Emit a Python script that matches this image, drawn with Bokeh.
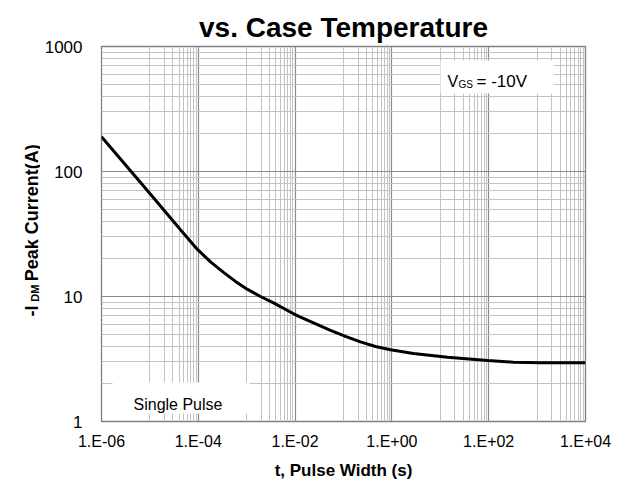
import math
from bokeh.plotting import figure
from bokeh.layouts import row
from bokeh.models import Range1d, FixedTicker, Label, BoxAnnotation, Title
from bokeh.core.properties import value
from bokeh.embed import file_html
from bokeh.resources import INLINE

# ---- data ----
pulse_width_s = [1e-6, 4.58e-6, 1.03e-5, 4.28e-5, 9.6e-5, 1.79e-4, 3.32e-4, 5.87e-4,
                 1.04e-3, 1.93e-3, 3.58e-3, 9.3e-3, 1.29e-2, 5.39e-2, 0.11, 0.224,
                 0.458, 0.935, 2.79, 14.1, 94.4, 325, 1175, 1e4]
peak_current_a = [190, 95, 65.7, 34.2, 23.8, 18.9, 15.6, 13.2,
                  11.4, 10.0, 8.9, 7.27, 6.83, 5.35, 4.79, 4.33,
                  3.98, 3.75, 3.50, 3.27, 3.08, 2.98, 2.95, 2.95]

x_major_ticks = [1e-6, 1e-4, 1e-2, 1e0, 1e2, 1e4]
x_tick_labels = ["1.E-06", "1.E-04", "1.E-02", "1.E+00", "1.E+02", "1.E+04"]
x_minor_ticks = [k * 10.0 ** e for e in (-5, -3, -1, 1, 3) for k in range(1, 10)]
y_major_ticks = [1, 10, 100, 1000]
y_tick_labels = ["1", "10", "100", "1000"]
y_minor_ticks = [k * 10.0 ** e for e in (0, 1, 2) for k in range(2, 10)]

FONT = "Liberation Sans"
LEFT_W = 40  # width of the strip that holds the y-axis title

# ---- strip on the left holding the rotated y-axis title ----
lp = figure(width=LEFT_W, height=485, x_range=Range1d(0, LEFT_W), y_range=Range1d(0, 485),
            output_backend="svg", toolbar_location=None,
            x_axis_location=None, y_axis_location=None,
            min_border=0, min_border_left=0, min_border_right=0,
            min_border_top=0, min_border_bottom=0)
lp.outline_line_color = None
lp.grid.visible = False
lp.background_fill_color = "white"
lp.border_fill_color = "white"


def ytitle(cx, cy, text, size):
    lp.text(x=[cx], y=[485 - cy], text=[text], angle=math.pi / 2,
            text_font=value(FONT), text_font_size=f"{size}px", text_font_style="bold",
            text_align="center", text_baseline="middle", text_color="black")


ytitle(31.8, 342, "-I", 18)
ytitle(34.2, 319, "DM", 11)
ytitle(31.8, 215, "Peak Current(A)", 18)

# ---- main chart ----
p = figure(width=625 - LEFT_W, height=485, x_axis_type="log", y_axis_type="log",
           x_range=Range1d(1e-6, 1e4), y_range=Range1d(1, 1000),
           output_backend="svg", toolbar_location=None, title=None,
           min_border_left=101 - LEFT_W, min_border_right=40,
           min_border_top=46, min_border_bottom=64)
p.background_fill_color = "white"
p.border_fill_color = "white"
p.outline_line_color = "#7f7f7f"
p.outline_line_width = 1.3

title = Title(text="vs. Case Temperature", align="center", text_font=FONT,
              text_font_size="28px", text_font_style="bold", text_color="black",
              standoff=8, offset=0)
p.add_layout(title, "above")

p.xaxis.ticker = FixedTicker(ticks=x_major_ticks, minor_ticks=x_minor_ticks)
p.yaxis.ticker = FixedTicker(ticks=y_major_ticks, minor_ticks=y_minor_ticks)
p.xaxis.major_label_overrides = {t: l for t, l in zip(x_major_ticks, x_tick_labels)}
p.yaxis.major_label_overrides = {t: l for t, l in zip(y_major_ticks, y_tick_labels)}

for ax in (p.xaxis, p.yaxis):
    ax.axis_line_color = None
    ax.major_tick_line_color = None
    ax.minor_tick_line_color = None
    ax.major_tick_out = 0
    ax.major_tick_in = 0
    ax.minor_tick_out = 0
    ax.minor_tick_in = 0
    ax.major_label_text_font = FONT
    ax.major_label_text_color = "black"
p.xaxis.major_label_text_font_size = "16px"
p.yaxis.major_label_text_font_size = "17px"
p.xaxis.major_label_standoff = 11
p.yaxis.major_label_standoff = 19

p.xaxis.axis_label = "t, Pulse Width (s)"
p.xaxis.axis_label_text_font = FONT
p.xaxis.axis_label_text_font_size = "17px"
p.xaxis.axis_label_text_font_style = "bold"
p.xaxis.axis_label_text_color = "black"
p.xaxis.axis_label_standoff = 8

for g in (p.xgrid, p.ygrid):
    g.grid_line_color = "#8a8a8a"
    g.grid_line_width = 1.2
    g.minor_grid_line_color = "#c3c3c3"
    g.minor_grid_line_width = 1

p.line(pulse_width_s, peak_current_a, line_color="black", line_width=3)


# ---- annotations placed by pixel position (page pixels) ----
def px2x(px):
    return 10 ** (-6 + (px - 101) / 48.4)


def py2y(py):
    return 10 ** ((421 - py) / 125)


p.add_layout(BoxAnnotation(left=px2x(440), right=px2x(553), top=py2y(60), bottom=py2y(93),
                           fill_color="white", fill_alpha=1, line_color=None))
p.add_layout(BoxAnnotation(left=px2x(112), right=px2x(249), top=py2y(382), bottom=py2y(413),
                           fill_color="white", fill_alpha=1, line_color=None))


def lab(px, py, text, size, bold=False, align="left"):
    p.add_layout(Label(x=px2x(px), y=py2y(py), text=text, text_font=FONT,
                       text_font_size=f"{size}px",
                       text_font_style="bold" if bold else "normal",
                       text_align=align, text_baseline="alphabetic",
                       text_color="black"))


lab(447, 81, "V", 16)
lab(458, 84, "GS", 10)
lab(476, 81, "=  -10V", 17)
lab(133, 404, "Single Pulse", 16)

open("out.html", "w").write(file_html(row(lp, p), INLINE))
